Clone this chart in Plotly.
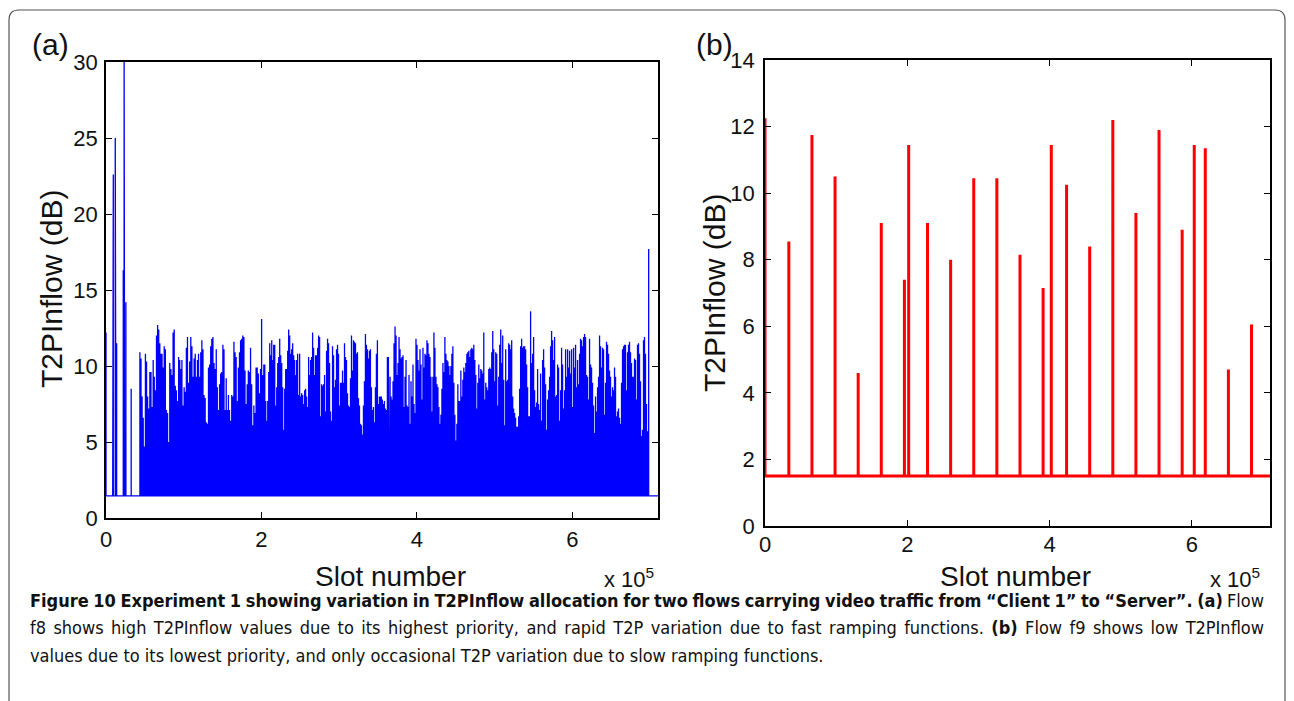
import numpy as np
import plotly.graph_objects as go

W, H = 1294, 701

# ---------------- data: panel (a), flow f8 ----------------
a_base = 1.45
# isolated early spikes (slot number, T2PInflow dB)
a_early_slots = [0, 0.086e5, 0.094e5, 0.119e5, 0.128e5, 0.137e5, 0.222e5, 0.233e5, 0.240e5, 0.256e5, 0.324e5]
a_early_vals = [12.2, 12.3, 22.6, 25.0, 12.8, 11.5, 16.3, 31.0, 11.6, 14.2, 8.5]

# dense region, read segment by segment (slot range of each segment)
a_seg_bounds = [(0.436e5, 2.030e5), (2.042e5, 3.632e5), (3.641e5, 5.231e5), (5.243e5, 6.965e5)]
a_seg1 = [10.9,10.5,8.0,6.6,4.7,10.8,10.3,8.0,7.2,9.6, 9.6,7.3,10.4,9.3,8.4,12.0,12.7,12.4,11.5,10.8,
          10.8,9.9,11.3,11.1,7.1,6.9,5.0,10.2,9.8,9.4, 12.2,12.4,8.7,8.4,7.7,10.6,10.4,9.8,10.4,7.4,
          8.6,8.3,11.2,11.9,8.9,10.3,11.9,11.3,9.3,10.5, 10.8,9.3,10.4,10.8,9.3,10.9,11.7,11.1,8.1,7.9,
          6.3,6.2,9.9,10.1,11.3,11.8,11.9,10.2,9.8,11.1, 8.6,7.1,8.8,9.5,9.6,11.4,11.1,7.1,9.2,7.1,
          8.1,7.1,6.4,8.1,8.0,11.6,10.9,10.6,7.7,9.9, 10.9,11.7,11.8,12.0,11.9,9.7,7.5,8.8,9.7,9.6,
          11.2,8.8,6.1,7.4,6.9,9.9,9.9,9.5,8.2,9.8, 13.1,9.4,10.1]
a_seg2 = [10.1,7.7,6.4,7.7,9.6,11.5,10.7,11.7,10.4,11.4, 11.4,7.4,8.6,10.2,10.6,11.8,10.7,10.2,8.6,5.8,
          8.5,9.8,9.8,11.0,12.4,12.0,10.8,11.1,11.5,10.7, 10.4,9.4,10.4,10.8,8.1,10.8,8.0,8.2,8.1,7.5,
          8.4,8.5,8.0,7.3,10.6,9.4,10.4,10.6,12.2,11.2, 9.4,10.7,10.7,11.2,12.0,11.9,6.7,8.8,8.7,8.8,
          9.4,7.0,11.0,11.8,11.5,10.2,7.0,6.4,11.3,10.7, 8.6,9.1,11.1,11.4,10.8,7.4,8.9,8.9,9.7,8.9,
          11.5,10.6,10.4,8.2,7.4,7.3,9.2,12.0,9.7,11.7, 11.6,11.5,10.8,10.9,7.9,7.4,6.2,6.1,5.5,7.4,
          9.0,12.1,11.4,11.1,10.5,11.0,11.1,8.6,7.1,7.3, 6.3,8.6,10.8,11.7,7.5,8.0,8.0,8.0,7.8,7.5,
          7.7,7.2,7.1,10.6,10.6]
a_seg3 = [9.4,9.3,8.0,7.8,9.0,11.5,12.6,12.0,9.4,10.2, 11.9,11.1,10.5,10.6,10.7,7.3,9.3,10.4,7.4,7.3,
          9.4,6.2,9.0,8.0,10.1,7.5,6.9,11.8,11.4,10.4, 9.7,11.1,10.1,7.8,11.2,9.9,10.8,10.7,11.7,11.5,
          10.8,10.6,9.3,7.0,9.3,12.2,11.2,9.3,8.8,8.6, 7.3,6.2,6.8,8.5,10.2,9.6,11.9,10.8,10.4,10.3,
          10.0,9.4,10.0,10.8,11.3,8.9,6.8,5.1,6.2,8.8, 7.7,7.7,9.7,8.0,9.1,9.9,9.6,10.2,10.8,10.9,
          11.0,10.6,11.1,11.2,11.1,11.4,10.4,9.4,7.2,8.9, 10.1,9.2,9.8,9.7,9.5,12.2,7.8,8.9,8.6,8.4,
          9.8,9.9,9.8,10.9,12.3,11.1,9.0,10.9,10.8,7.4, 9.3,11.4,12.4,10.2,12.0,9.1,6.1,11.1,9.0,9.1,
          11.5,11.4,11.1,11.7,8.0]
a_seg4 = [7.2,6.9,6.6,6.0,6.0,6.7,8.5,11.3,11.8,11.2, 11.3,11.3,11.1,10.1,8.6,6.7,6.7,13.6,10.2,10.8,
          11.9,8.4,7.3,7.6,9.8,7.5,7.1,9.5,6.4,10.4, 11.1,9.9,8.8,5.8,7.8,8.4,9.3,11.3,12.3,11.7,
          10.4,11.9,8.0,8.1,10.1,9.9,6.4,8.4,11.2,10.1, 7.2,8.4,11.1,9.3,11.1,9.9,11.0,9.5,11.1,7.3,
          11.2,9.9,11.4,8.6,10.4,8.8,10.8,11.8,11.7,11.3, 11.9,12.1,11.9,9.4,9.3,7.8,11.8,10.1,9.9,8.9,
          7.4,5.6,8.0,7.0,8.6,9.3,12.0,11.3,9.9,11.2, 11.1,6.8,8.9,11.6,11.4,10.8,9.7,9.3,8.0,8.6,
          8.4,9.9,9.3,6.7,7.0,7.2,6.6,6.2,8.9,11.1, 11.3,11.4,11.4,8.4,10.9,11.4,11.6,10.9,10.2,9.3,
          9.3,10.5,10.4,7.8,11.4,11.5,10.8,9.0,5.4,5.8, 11.7,11.9,10.8,7.5,5.7]
a_last_slot, a_last_val = 6.98e5, 17.7
a_segments = [a_seg1, a_seg2, a_seg3, a_seg4]

# ---------------- data: panel (b), flow f9 ----------------
b_base = 1.5
b_slots = [0, 0.335e5, 0.66e5, 0.985e5, 1.31e5, 1.635e5, 1.96e5, 2.02e5, 2.285e5, 2.61e5, 2.935e5,
           3.26e5, 3.585e5, 3.91e5, 4.025e5, 4.24e5, 4.565e5, 4.89e5, 5.215e5, 5.54e5, 5.865e5,
           6.035e5, 6.19e5, 6.515e5, 6.84e5]
b_vals = [12.25, 8.55, 11.75, 10.5, 4.6, 9.1, 7.4, 11.45, 9.1, 8.0, 10.45, 10.45, 8.15, 7.15,
          11.45, 10.25, 8.4, 12.2, 9.4, 11.9, 8.9, 11.45, 11.35, 4.7, 6.05]

x_max = 7.1e5
x_tickvals = [0, 2e5, 4e5, 6e5]
x_ticktext = ["0", "2", "4", "6"]
a_yticks = [0, 5, 10, 15, 20, 25, 30]
b_yticks = [0, 2, 4, 6, 8, 10, 12, 14]

caption = [
    "<b>Figure 10 Experiment 1 showing variation in T2PInflow allocation for two flows carrying video traffic from \u201cClient 1\u201d to \u201cServer\u201d. (a)</b> Flow",
    "f8 shows high T2PInflow values due to its highest priority, and rapid T2P variation due to fast ramping functions. <b>(b)</b> Flow f9 shows low T2PInflow",
    "values due to its lowest priority, and only occasional T2P variation due to slow ramping functions.",
]


def spikes(slots, vals, base, x_end):
    xs, ys = [], []
    for s, v in zip(slots, vals):
        xs += [s, s, s]
        ys += [base, v, base]
    xs.append(x_end)
    ys.append(base)
    return xs, ys


a_slots = list(a_early_slots)
a_vals = list(a_early_vals)
for (s0, s1), seg in zip(a_seg_bounds, a_segments):
    a_slots += list(np.linspace(s0, s1, len(seg)))
    a_vals += seg
a_slots.append(a_last_slot)
a_vals.append(a_last_val)

ax_x, ax_y = spikes(a_slots, a_vals, a_base, x_max)
bx_x, bx_y = spikes(b_slots, b_vals, b_base, x_max)

fig = go.Figure()
fig.add_trace(go.Scatter(x=ax_x, y=ax_y, mode="lines", line=dict(color="#0000ff", width=1.3),
                         xaxis="x", yaxis="y", showlegend=False, hoverinfo="skip"))
fig.add_trace(go.Scatter(x=bx_x, y=bx_y, mode="lines", line=dict(color="#ff0000", width=3),
                         xaxis="x2", yaxis="y2", showlegend=False, hoverinfo="skip"))


def px(x):
    return x / W


def py(y):
    return 1 - y / H


TICKFONT = dict(family="Liberation Sans, Arial, sans-serif", size=22, color="#111")
common_axis = dict(showline=True, linecolor="black", linewidth=1.5, mirror="ticks",
                   ticks="inside", ticklen=6, tickwidth=1, tickcolor="black",
                   showgrid=False, zeroline=False, tickfont=TICKFONT)

fig.update_layout(
    width=W, height=H, margin=dict(l=0, r=0, t=0, b=0, autoexpand=False),
    paper_bgcolor="white", plot_bgcolor="white", showlegend=False,
    xaxis=dict(domain=[px(106), px(658)], range=[0, x_max], tickvals=x_tickvals, ticktext=x_ticktext,
               anchor="y", ticklabelstandoff=1, **common_axis),
    yaxis=dict(domain=[py(518), py(62)], range=[0, 30], tickvals=a_yticks, anchor="x",
               ticklabelstandoff=2, **common_axis),
    xaxis2=dict(domain=[px(765), px(1270)], range=[0, x_max], tickvals=x_tickvals, ticktext=x_ticktext,
                anchor="y2", ticklabelstandoff=-2, **common_axis),
    yaxis2=dict(domain=[py(526), py(60)], range=[0, 14], tickvals=b_yticks, anchor="x2",
                ticklabelstandoff=4, **common_axis),
)

LAB = "Liberation Sans, Arial, sans-serif"
ann = []


def add_text(text, x, y, size, angle=0, xanchor="center", family=LAB, align="center"):
    ann.append(dict(text=text, x=px(x), y=py(y), xref="paper", yref="paper", showarrow=False,
                    xanchor=xanchor, yanchor="middle", textangle=angle, align=align,
                    font=dict(family=family, size=size, color="#111")))


add_text("(a)", 51, 45, 30)
add_text("(b)", 714, 45, 30)
add_text("T2PInflow (dB)", 52, 289, 30, angle=-90)
add_text("T2PInflow (dB)", 714, 293, 30, angle=-90)
add_text("Slot number", 390, 576, 28)
add_text("Slot number", 1015, 576, 28)
add_text("x 10<sup>5</sup>", 629, 578, 22)
add_text("x 10<sup>5</sup>", 1235, 578, 22)

CAP = "DejaVu Sans Condensed, Liberation Sans Narrow, sans-serif"
for i, line in enumerate(caption):
    add_text(line, 28, 600 + 27.5 * i, 18, xanchor="left", family=CAP, align="left")

fig.update_layout(annotations=ann)

# rounded frame around the figure (open at the bottom)
l, r, t, b = px(9), px(1285), py(10), -0.02
rx, ry = 10 / W, 10 / H
fig.add_shape(type="path", xref="paper", yref="paper",
              path=f"M {l},{b} L {l},{t - ry} Q {l},{t} {l + rx},{t} L {r - rx},{t} Q {r},{t} {r},{t - ry} L {r},{b}",
              line=dict(color="#555", width=1.2))

post = """
document.body.style.margin = '0';
document.body.style.padding = '0';
document.body.style.overflow = 'hidden';
var gd = document.getElementById('{plot_id}');
var texts = gd.querySelectorAll('g.annotation text');
texts.forEach(function (t) {
  var s = t.textContent;
  if (s.indexOf('Figure 10') === 0 || s.indexOf('f8 shows') === 0) {
    var n = (s.match(/ /g) || []).length;
    var len = t.getComputedTextLength();
    var ws = (1234 - len) / n;
    t.style.wordSpacing = ws + 'px';
  }
});
"""

fig.write_html("out.html", post_script=post)
